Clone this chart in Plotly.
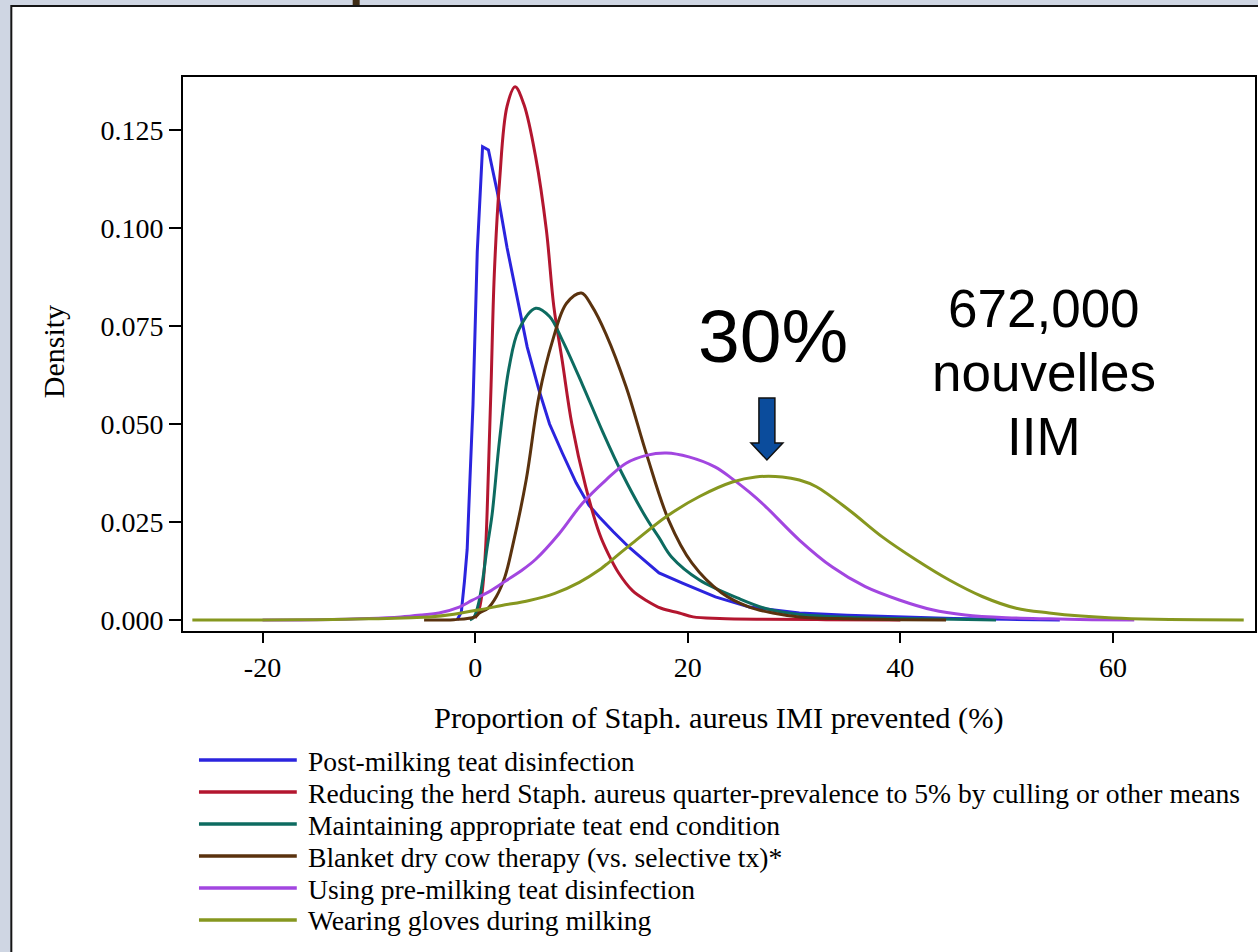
import plotly.graph_objects as go

# ---------------- data ----------------
names = [
    "Post-milking teat disinfection",
    "Reducing the herd Staph. aureus quarter-prevalence to 5% by culling or other means",
    "Maintaining appropriate teat end condition",
    "Blanket dry cow therapy (vs. selective tx)*",
    "Using pre-milking teat disinfection",
    "Wearing gloves during milking",
]
colors = ["#2B24DE", "#B3162F", "#0D6B60", "#5A320E", "#A246E0", "#86971F"]

post_x = [-1.7, -1.3, -1.0, -0.75, -0.5, -0.2, 0.2, 0.7, 1.25, 2.1, 3.0, 4.1, 4.9, 6.0, 7.0, 8.2,
          9.5, 10.7, 11.7, 13.0, 14.5, 16.0, 17.3, 19.5, 22.6, 25.8, 30.5, 35, 40, 45, 50, 55]
post_y = [0.0, 0.002, 0.010, 0.018, 0.035, 0.055, 0.094, 0.1207, 0.1199, 0.109, 0.095, 0.080,
          0.0696, 0.0587, 0.050, 0.0426, 0.035, 0.0293, 0.0262, 0.0225, 0.0185, 0.015, 0.012,
          0.0094, 0.0059, 0.0033, 0.0018, 0.0012, 0.0008, 0.0004, 0.0002, 0.0]

prev_x = [0.0, 0.4, 0.7, 1.0, 1.25, 1.5, 1.8, 2.3, 3.0, 3.76, 4.6, 5.7, 6.7, 7.4, 8.2, 9.1, 10.4,
          11.7, 12.5, 13.5, 14.8, 16.1, 17.5, 19.2, 20.5, 23, 27, 33, 40]
prev_y = [0.0005, 0.003, 0.008, 0.019, 0.038, 0.060, 0.088, 0.112, 0.131, 0.136, 0.1314, 0.118,
          0.0995, 0.080, 0.066, 0.050, 0.034, 0.022, 0.017, 0.012, 0.0075, 0.005, 0.003, 0.0018,
          0.0008, 0.0004, 0.0002, 0.0001, 0.0]

teat_x = [-0.5, -0.1, 0.3, 0.7, 1.1, 1.6, 2.3, 3.2, 4.1, 5.7, 7.0, 8.2, 10.1, 12.0, 13.8, 16.1,
          17.3, 18.5, 21.1, 24.8, 27.5, 30.5, 35, 40, 45, 49]
teat_y = [0.0, 0.0008, 0.004, 0.010, 0.018, 0.027, 0.046, 0.0645, 0.074, 0.0795, 0.0774, 0.0714,
          0.060, 0.048, 0.0375, 0.026, 0.021, 0.016, 0.0102, 0.0055, 0.0028, 0.0014, 0.0007,
          0.0004, 0.0002, 0.0]

dry_x = [-4.8, -2.0, 0.0, 0.4, 1.2, 2.0, 2.8, 3.5, 4.8, 6.0, 7.3, 8.6, 10.0, 11.0, 12.3, 14.2,
         16.1, 18.2, 20.4, 23.2, 25.8, 28.0, 30.5, 35, 40, 44.3]
dry_y = [0.0, 0.0001, 0.0008, 0.0018, 0.003, 0.006, 0.011, 0.0186, 0.0357, 0.057, 0.0714, 0.0808,
         0.0834, 0.080, 0.073, 0.0595, 0.0425, 0.0255, 0.0145, 0.0069, 0.0033, 0.0018, 0.0008,
         0.0003, 0.0001, 0.0]

pre_x = [-20, -15, -10, -7, -5, -3.4, -1.5, -0.3, 1.5, 2.9, 4.3, 5.7, 7.9, 10.1, 12.3, 14.2, 16.1,
         18.0, 20.1, 22.6, 24.2, 25.8, 27.3, 30.5, 33.6, 36.7, 39.9, 43.0, 46.1, 50, 54, 58, 62]
pre_y = [0.0, 0.0001, 0.0004, 0.0008, 0.0013, 0.0018, 0.0033, 0.005, 0.0075, 0.010, 0.0125, 0.0155,
         0.022, 0.0298, 0.0357, 0.040, 0.042, 0.0426, 0.0416, 0.0390, 0.0360, 0.0326, 0.0290,
         0.0204, 0.0135, 0.0085, 0.0051, 0.0026, 0.0013, 0.0006, 0.0003, 0.0001, 0.0]

glove_x = [-26.6, -20, -15, -10, -6, -4.3, -2, 0.4, 2.5, 5.1, 7.5, 9.8, 11.7, 12.3, 14.8, 18.0, 21.1,
           24.2, 26.4, 28.9, 30.5, 32.1, 35.2, 38.3, 41.5, 44.6, 47.7, 50.9, 54, 57, 60, 64, 68, 72.3]
glove_y = [0.0, 0.0, 0.0001, 0.0003, 0.0006, 0.0008, 0.0015, 0.0026, 0.0037, 0.005, 0.0068, 0.0096,
           0.0128, 0.0141, 0.0196, 0.0264, 0.0315, 0.0352, 0.0365, 0.0365, 0.0357, 0.034, 0.028,
           0.0212, 0.0153, 0.0102, 0.006, 0.003, 0.0018, 0.001, 0.0005, 0.0002, 0.0001, 0.0]

series_x = [post_x, prev_x, teat_x, dry_x, pre_x, glove_x]
series_y = [post_y, prev_y, teat_y, dry_y, pre_y, glove_y]

x_ticks = [-20, 0, 20, 40, 60]
y_ticks = [0.0, 0.025, 0.05, 0.075, 0.1, 0.125]
y_ticklabels = ["0.000", "0.025", "0.050", "0.075", "0.100", "0.125"]

# ---------------- layout helpers (pixel -> paper) ----------------
W, H = 1258, 952
L, R, T, B = 183, 1257, 77, 631


def px(x):
    return (x - L) / (R - L)


def py(y):
    return (B - y) / (B - T)


SERIF = "Liberation Serif, Times New Roman, serif"
SANS = "Liberation Sans, Arial, sans-serif"

fig = go.Figure()
for i in range(len(names)):
    fig.add_trace(go.Scatter(
        x=series_x[i], y=series_y[i], mode="lines", name=names[i],
        line=dict(color=colors[i], width=3, shape="linear" if i == 0 else "spline", smoothing=1.0),
        showlegend=False, hoverinfo="skip"))

shapes = []
# slide panel
shapes.append(dict(type="rect", xref="paper", yref="paper", x0=px(11), x1=px(1275),
                   y0=py(975), y1=py(6), fillcolor="white", line=dict(color="#151515", width=2),
                   layer="below"))
# small dark mark at top
shapes.append(dict(type="rect", xref="paper", yref="paper", x0=px(353), x1=px(360),
                   y0=py(5), y1=py(-2), fillcolor="#3E2C16", line=dict(width=0)))
# block arrow
arrow_pts = [(760, 398), (776, 398), (776, 443), (784, 443), (768, 460), (752, 443), (760, 443)]
path = "M " + " L ".join(f"{px(a):.5f},{py(b):.5f}" for a, b in arrow_pts) + " Z"
shapes.append(dict(type="path", xref="paper", yref="paper", path=path,
                   fillcolor="#0B4C9C", line=dict(color="#111111", width=1.5)))

annotations = []
# legend (manual, long sample lines)
for i, (nm, col) in enumerate(zip(names, colors)):
    ry = 760 + 32 * i
    shapes.append(dict(type="line", xref="paper", yref="paper", x0=px(199), x1=px(297),
                       y0=py(ry), y1=py(ry), line=dict(color=col, width=3.5)))
    annotations.append(dict(xref="paper", yref="paper", x=px(306), y=py(ry + 1), text=nm,
                            showarrow=False, xanchor="left", yanchor="middle",
                            font=dict(family=SERIF, size=27.6, color="black")))

# axis titles
annotations.append(dict(xref="paper", yref="paper", x=px(720), y=py(718),
                        text="Proportion of Staph. aureus IMI prevented (%)", showarrow=False,
                        xanchor="center", yanchor="middle",
                        font=dict(family=SERIF, size=30.4, color="black")))
annotations.append(dict(xref="paper", yref="paper", x=px(53), y=py(352), text="Density",
                        showarrow=False, textangle=-90, xanchor="center", yanchor="middle",
                        font=dict(family=SERIF, size=30, color="black")))
# big annotations
annotations.append(dict(xref="paper", yref="paper", x=px(774), y=py(336), text="30%",
                        showarrow=False, xanchor="center", yanchor="middle",
                        font=dict(family=SANS, size=75, color="black")))
for txt, yy in [("672,000", 308), ("nouvelles", 372), ("IIM", 436)]:
    annotations.append(dict(xref="paper", yref="paper", x=px(1046), y=py(yy), text=txt,
                            showarrow=False, xanchor="center", yanchor="middle",
                            font=dict(family=SANS, size=53, color="black")))

fig.update_layout(
    width=W, height=H,
    margin=dict(l=L, r=W - R, t=T, b=H - B, pad=0),
    paper_bgcolor="#CFD6E3", plot_bgcolor="white",
    shapes=shapes, annotations=annotations, showlegend=False,
    xaxis=dict(range=[-27.48, 73.36], tickvals=x_ticks, ticktext=[str(v) for v in x_ticks],
               ticks="outside", ticklen=10, tickwidth=2, tickcolor="black",
               showline=True, mirror=True, linecolor="black", linewidth=2,
               showgrid=False, zeroline=False,
               tickfont=dict(family=SERIF, size=28, color="black")),
    yaxis=dict(range=[-0.0028, 0.1385], tickvals=y_ticks, ticktext=y_ticklabels,
               ticks="outside", ticklen=12, tickwidth=2, tickcolor="black",
               showline=True, mirror=True, linecolor="black", linewidth=2,
               showgrid=False, zeroline=False,
               tickfont=dict(family=SERIF, size=28, color="black")),
)

fig.write_html("out.html")
